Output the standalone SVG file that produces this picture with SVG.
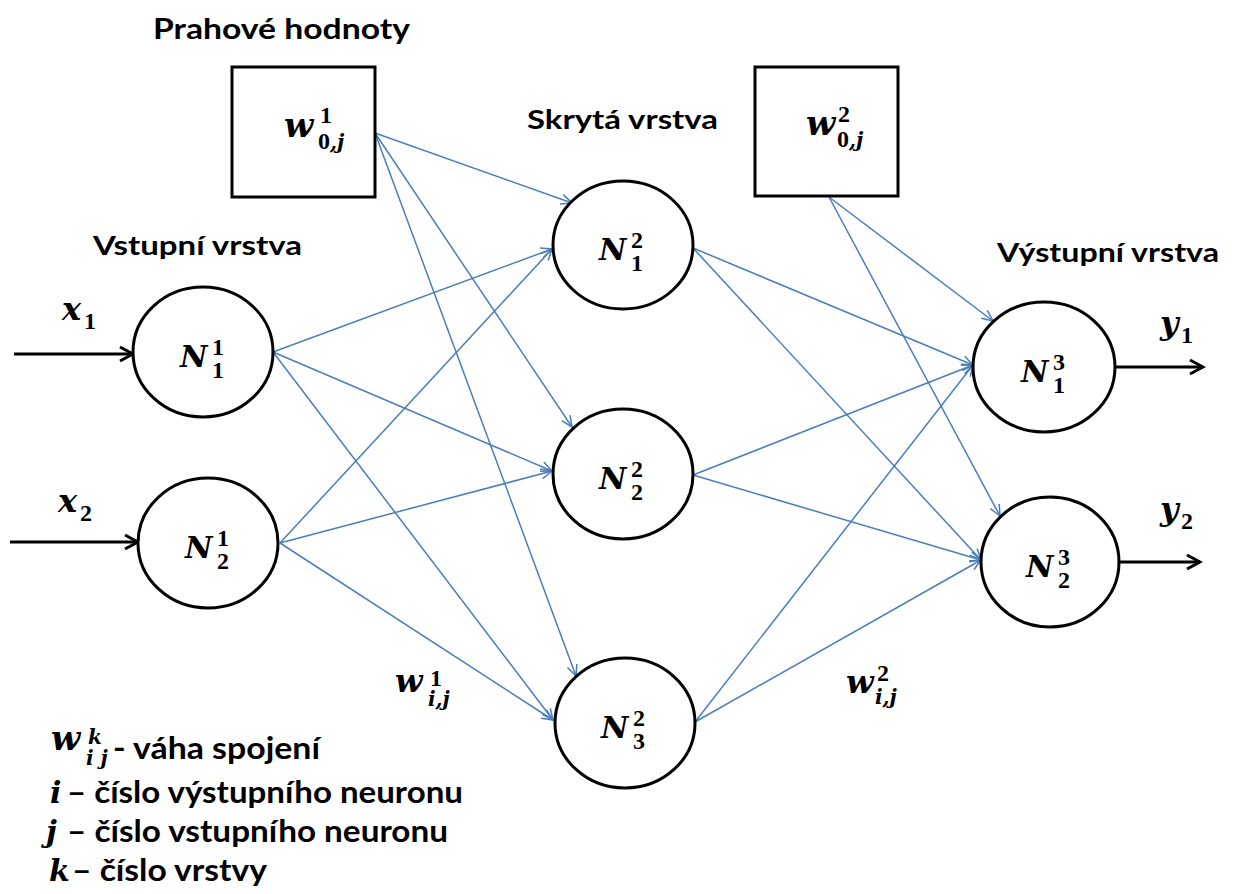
<svg xmlns="http://www.w3.org/2000/svg" width="1237" height="894" viewBox="0 0 1237 894">
  <style>
    .node { fill: #ffffff; stroke: #000000; stroke-width: 3; }
    .link { stroke: #4A7EBB; stroke-width: 1.5; fill: none; marker-end: url(#blueHead); }
    .io { stroke: #000000; stroke-width: 3; fill: none; marker-end: url(#blackHead); }
    .title { font-family: Lato, "Liberation Sans", sans-serif; font-weight: bold; fill: #000000; }
    .mi { font-family: "DejaVu Serif", "Liberation Serif", serif; font-weight: bold; font-style: italic; fill: #000000; }
    .md { font-family: "Liberation Serif", "DejaVu Serif", serif; font-weight: bold; fill: #000000; font-size: 24px; }
  </style>
  <defs>
    <marker id="blueHead" markerWidth="14" markerHeight="12" refX="12" refY="6" orient="auto" markerUnits="userSpaceOnUse">
      <path d="M1,1 L12,6 L1,11" fill="none" stroke="#4A7EBB" stroke-width="1.5"/>
    </marker>
    <marker id="blackHead" markerWidth="18" markerHeight="18" refX="15" refY="9" orient="auto" markerUnits="userSpaceOnUse">
      <path d="M2,2 L15,9 L2,16" fill="none" stroke="#000000" stroke-width="3"/>
    </marker>
  </defs>
  <rect width="1237" height="894" fill="#ffffff"/>

  <!-- layer titles -->
  <text class="title" x="153" y="39" font-size="29" textLength="257" lengthAdjust="spacingAndGlyphs">Prahové hodnoty</text>
  <text class="title" x="527" y="129" font-size="26" textLength="191" lengthAdjust="spacingAndGlyphs">Skrytá vrstva</text>
  <text class="title" x="93" y="255" font-size="27" textLength="209" lengthAdjust="spacingAndGlyphs">Vstupní vrstva</text>
  <text class="title" x="997" y="262" font-size="27" textLength="222" lengthAdjust="spacingAndGlyphs">Výstupní vrstva</text>

  <!-- weighted connections -->
  <g id="connectors">
    <path class="link" d="M273,352 L552,249"/>
    <path class="link" d="M273,352 L552,471"/>
    <path class="link" d="M273,352 L553,720"/>
    <path class="link" d="M280,543 L552,249"/>
    <path class="link" d="M280,543 L552,471"/>
    <path class="link" d="M280,543 L553,720"/>
    <path class="link" d="M375,133 L572,203"/>
    <path class="link" d="M375,133 L572,427"/>
    <path class="link" d="M375,133 L576,676"/>
    <path class="link" d="M693,248 L973,365"/>
    <path class="link" d="M693,248 L981,560"/>
    <path class="link" d="M693,475 L973,365"/>
    <path class="link" d="M693,475 L981,560"/>
    <path class="link" d="M695,722 L973,365"/>
    <path class="link" d="M695,722 L981,560"/>
    <path class="link" d="M829,197 L993,321"/>
    <path class="link" d="M829,197 L1000,516"/>
    <path class="io" d="M14,354 L133,354"/>
    <path class="io" d="M10,542 L138,542"/>
    <path class="io" d="M1115,367 L1203,367"/>
    <path class="io" d="M1119,562 L1200,562"/>
  </g>

  <!-- input / output signals -->
  <g id="x1">
    <text class="mi" x="62" y="320" font-size="32">x</text>
    <text class="md" x="84" y="329">1</text>
  </g>
  <g id="x2">
    <text class="mi" x="58" y="512" font-size="32">x</text>
    <text class="md" x="80" y="521">2</text>
  </g>
  <g id="y1">
    <text class="mi" x="1160" y="334" font-size="32">y</text>
    <text class="md" x="1181" y="343">1</text>
  </g>
  <g id="y2">
    <text class="mi" x="1160" y="520" font-size="32">y</text>
    <text class="md" x="1181" y="529">2</text>
  </g>

  <!-- threshold boxes -->
  <g id="bias1">
    <rect class="node" x="232" y="67" width="143" height="130"/>
    <text class="mi" x="284" y="137" font-size="34">w</text>
    <text class="md" x="320" y="123">1</text>
    <text class="md" x="318" y="149">0<tspan class="mi" font-size="20">,j</tspan></text>
  </g>
  <g id="bias2">
    <rect class="node" x="755" y="67" width="143" height="129"/>
    <text class="mi" x="806" y="135" font-size="34">w</text>
    <text class="md" x="838" y="122">2</text>
    <text class="md" x="837" y="147">0<tspan class="mi" font-size="20">,j</tspan></text>
  </g>

  <!-- input layer -->
  <g id="n1_1">
    <ellipse class="node" cx="203" cy="352" rx="70" ry="65"/>
    <text class="mi" x="180" y="367" font-size="30">N</text>
    <text class="md" x="212" y="355">1</text>
    <text class="md" x="212" y="378">1</text>
  </g>
  <g id="n1_2">
    <ellipse class="node" cx="208" cy="543" rx="70" ry="65"/>
    <text class="mi" x="185" y="558" font-size="30">N</text>
    <text class="md" x="217" y="546">1</text>
    <text class="md" x="217" y="569">2</text>
  </g>

  <!-- hidden layer -->
  <g id="n2_1">
    <ellipse class="node" cx="623" cy="245" rx="70" ry="64"/>
    <text class="mi" x="599" y="260" font-size="30">N</text>
    <text class="md" x="631" y="248">2</text>
    <text class="md" x="631" y="271">1</text>
  </g>
  <g id="n2_2">
    <ellipse class="node" cx="623" cy="474" rx="70" ry="65"/>
    <text class="mi" x="599" y="489" font-size="30">N</text>
    <text class="md" x="631" y="477">2</text>
    <text class="md" x="631" y="500">2</text>
  </g>
  <g id="n2_3">
    <ellipse class="node" cx="625" cy="723" rx="70" ry="65"/>
    <text class="mi" x="601" y="738" font-size="30">N</text>
    <text class="md" x="633" y="726">2</text>
    <text class="md" x="633" y="749">3</text>
  </g>

  <!-- output layer -->
  <g id="n3_1">
    <ellipse class="node" cx="1044" cy="367" rx="71" ry="65"/>
    <text class="mi" x="1021" y="382" font-size="30">N</text>
    <text class="md" x="1053" y="370">3</text>
    <text class="md" x="1053" y="393">1</text>
  </g>
  <g id="n3_2">
    <ellipse class="node" cx="1050" cy="562" rx="69" ry="65"/>
    <text class="mi" x="1026" y="577" font-size="30">N</text>
    <text class="md" x="1058" y="565">3</text>
    <text class="md" x="1058" y="588">2</text>
  </g>

  <!-- weight labels -->
  <g id="w1">
    <text class="mi" x="395" y="692" font-size="32">w</text>
    <text class="md" x="430" y="686">1</text>
    <text class="mi" x="428" y="706" font-size="20">i,j</text>
  </g>
  <g id="w2">
    <text class="mi" x="846" y="693" font-size="32">w</text>
    <text class="md" x="877" y="681">2</text>
    <text class="mi" x="875" y="704" font-size="20">i,j</text>
  </g>

  <!-- legend -->
  <g id="legend">
    <text class="mi" x="51" y="750" font-size="34">w</text>
    <text class="mi" x="88" y="744" font-size="20">k</text>
    <text class="mi" x="86" y="765" font-size="20">i j</text>
    <text class="title" x="113" y="759" font-size="30" textLength="207" lengthAdjust="spacingAndGlyphs">- váha spojení</text>
    <text class="mi" x="50" y="803" font-size="30">i</text>
    <text class="title" x="67" y="803" font-size="31" textLength="396" lengthAdjust="spacingAndGlyphs">– číslo výstupního neuronu</text>
    <text class="mi" x="46" y="842" font-size="30">j</text>
    <text class="title" x="67" y="842" font-size="31" textLength="381" lengthAdjust="spacingAndGlyphs">– číslo vstupního neuronu</text>
    <text class="mi" x="49" y="881" font-size="30">k</text>
    <text class="title" x="72" y="881" font-size="31" textLength="195" lengthAdjust="spacingAndGlyphs">– číslo vrstvy</text>
  </g>
</svg>
